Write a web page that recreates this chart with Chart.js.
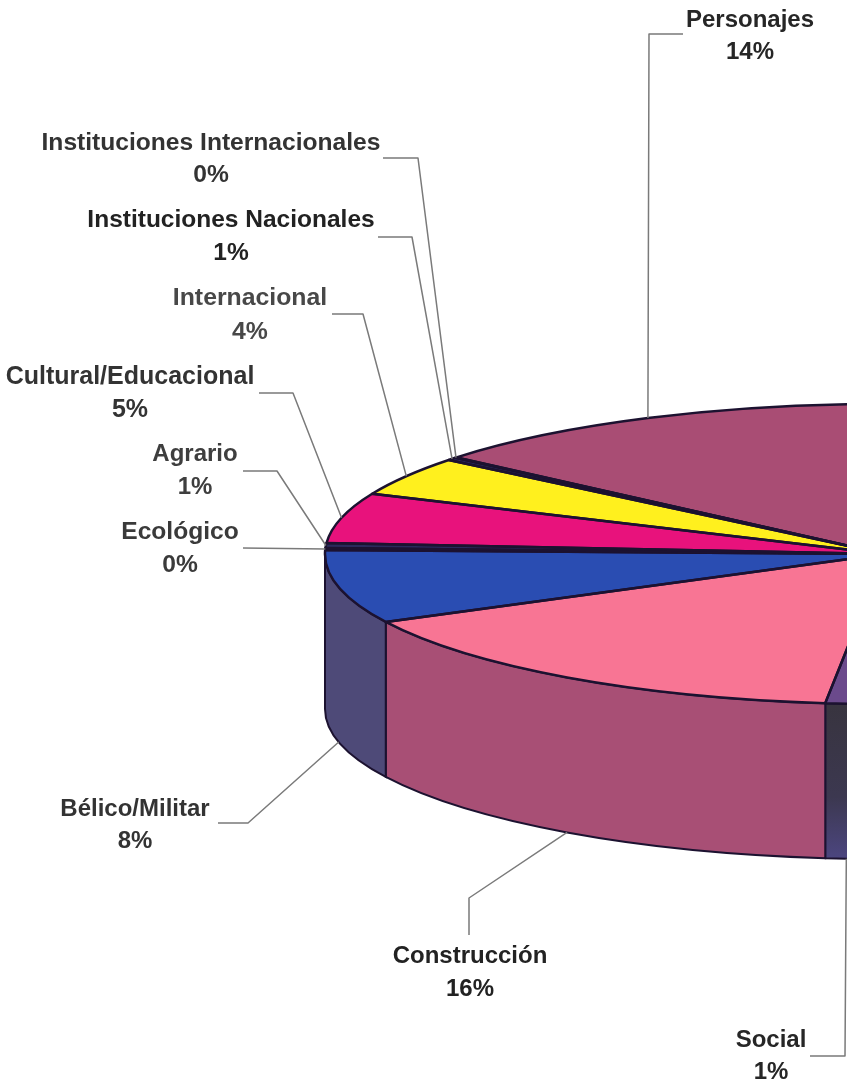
<!DOCTYPE html>
<html>
<head>
<meta charset="utf-8">
<style>
html,body{margin:0;padding:0;background:#fff;width:847px;height:1085px;overflow:hidden}
#w{position:absolute;left:0;top:0;width:847px;height:1085px}
canvas{display:block;filter:blur(0.5px)}
</style>
<script src="https://cdn.jsdelivr.net/npm/chart.js@4"></script>
</head>
<body>
<div id="w"><canvas id="c" width="847" height="1085"></canvas></div>
<script>
// Clockwise from the bottom of the pie. The last slice is the part cropped off the right of the picture.
const categories = ['Social','Construcción','Bélico/Militar','Ecológico','Agrario','Cultural/Educacional','Internacional','Instituciones Nacionales','Instituciones Internacionales','Personajes',''];
const values = [1.2,15.8,7.9,0.2,0.55,5.4,4.2,0.3,0.05,13.8,50.5];
const percentLabels = ['1%','16%','8%','0%','1%','5%','4%','1%','0%','14%',''];
const topColors = ['#6B4A8C','#F87594','#2A4DB2','#2B2A5C','#2B2A5C','#E8127C','#FFF01E','#2B2A5C','#2B2A5C','#A94D74','#A94D74'];
const sideColors = ['#3C3848','#A84F75','#4E4A78','#2B2A5C','#2B2A5C','#8A1050','#A09A20','#2B2A5C','#2B2A5C','#7A3855','#7A3855'];
const textColors = ['#262626','#222222','#333333','#3A3A3A','#3E3E3E','#333333','#484848','#222222','#333333','#262626',''];
const fontSizes = [24,24,24,24.6,24,25,24.8,24.5,24.6,24,24];
// Label centre [x, y of name line, y of percent line]; leader points before it reaches the slice
const labelPos = [[771,1040,1072],[470,956,989],[135,809,841],[180,532,565],[195,454,487],[130,377,410],[250,298,332],[231,220,253],[211,143,175],[750,20,52],null];
const leaderPos = [[[810,1056],[845,1056]],[[469,935],[469,898]],[[218,823],[248,823]],[[243,548]],[[243,471],[277,471]],[[259,393],[293,393]],[[332,314],[363,314]],[[378,237],[412,237]],[[383,158],[418,158]],[[683,34],[649,34]],null];

const CX=885, CY=554, RX=560, RY=150, DEPTH=155;
const LINE='#1C1230', LEADER='#7A7A7A';

function squash(ctx,arc){
  ctx.translate(CX,CY);
  ctx.scale(1,RY/RX);
  ctx.translate(-arc.x,-arc.y);
}
const pie3d={
  id:'pie3d',
  beforeDatasetsDraw(chart){
    const ctx=chart.ctx, arcs=chart.getDatasetMeta(0).data;
    // side wall of each slice, front half only
    arcs.forEach((arc,i)=>{
      [0,2*Math.PI].forEach(shift=>{
        const s=Math.max(arc.startAngle-shift,0), e=Math.min(arc.endAngle-shift,Math.PI);
        if(e<=s) return;
        ctx.beginPath();
        ctx.ellipse(CX,CY,RX,RY,0,s,e);
        ctx.ellipse(CX,CY+DEPTH,RX,RY,0,e,s,true);
        ctx.closePath();
        if(i===0){
          const g=ctx.createLinearGradient(0,CY+RY,0,CY+RY+DEPTH);
          g.addColorStop(0,'#38343F');g.addColorStop(0.6,'#3C3850');g.addColorStop(1,'#4C4680');
          ctx.fillStyle=g;
        } else ctx.fillStyle=sideColors[i];
        ctx.fill();
        ctx.strokeStyle=LINE;ctx.lineWidth=2;ctx.stroke();
      });
    });
    ctx.save();
    squash(ctx,arcs[0]);
  },
  afterDatasetsDraw(chart){
    const ctx=chart.ctx, arcs=chart.getDatasetMeta(0).data;
    ctx.restore();
    ctx.strokeStyle=LINE;ctx.lineWidth=2.5;ctx.lineJoin='round';
    arcs.forEach(arc=>{
      ctx.beginPath();
      ctx.moveTo(CX,CY);
      ctx.ellipse(CX,CY,RX,RY,0,arc.startAngle,arc.endAngle);
      ctx.closePath();
      ctx.stroke();
    });
  },
  afterDraw(chart){
    const ctx=chart.ctx, arcs=chart.getDatasetMeta(0).data;
    ctx.save();
    arcs.forEach((arc,i)=>{
      if(!labelPos[i]) return;
      const mid=(arc.startAngle+arc.endAngle)/2;
      const ex=CX+RX*Math.cos(mid);
      let ey=CY+RY*Math.sin(mid);
      if(Math.sin(mid)>0.1) ey+=DEPTH;
      ctx.beginPath();
      leaderPos[i].forEach((p,k)=>k?ctx.lineTo(p[0],p[1]):ctx.moveTo(p[0],p[1]));
      ctx.lineTo(ex,ey);
      ctx.strokeStyle=LEADER;ctx.lineWidth=1.5;ctx.stroke();
      const [lx,ly,py]=labelPos[i];
      ctx.fillStyle=textColors[i];
      ctx.font='bold '+fontSizes[i]+'px "Liberation Sans", Arial, sans-serif';
      ctx.textAlign='center';ctx.textBaseline='middle';
      ctx.fillText(categories[i],lx,ly);
      ctx.fillText(percentLabels[i],lx,py);
    });
    ctx.restore();
  }
};
new Chart(document.getElementById('c'),{
  type:'pie',
  data:{labels:categories,datasets:[{data:values,backgroundColor:topColors,borderWidth:0,radius:RX,clip:false}]},
  options:{
    responsive:false,animation:false,rotation:181.8,
    plugins:{legend:{display:false},tooltip:{enabled:false}},
    layout:{padding:0}
  },
  plugins:[pie3d]
});
</script>
</body>
</html>
